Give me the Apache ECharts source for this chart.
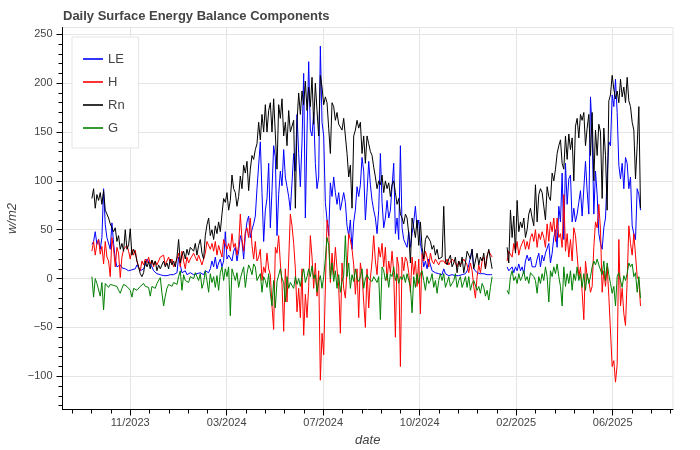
<!DOCTYPE html>
<html><head><meta charset="utf-8">
<script src="https://cdn.jsdelivr.net/npm/echarts@6/dist/echarts.min.js"></script>
<style>html,body{margin:0;padding:0;background:#fff}#c{width:700px;height:450px}</style>
</head><body><div id="c"></div><script>
// ---- data: daily-surface energy balance, one value every 2 days starting 2023-09-30 ----
const START = Date.UTC(2023, 8, 30);
const STEP_DAYS = 2;
const DAY = 86400000;
const SERIES_NAMES = ['LE', 'H', 'Rn', 'G'];

const LE = [
35,38,48,35,40,30,42,92,55,42,
40,30,57,36,20,12,10,14,11,9,
10,9,8,10,9,8,10,14,12,8,
8,10,14,20,18,15,12,8,6,5,
5,4,4,3,4,3,3,4,3,4,
4,6,22,14,6,5,8,4,5,6,
5,4,6,5,3,6,5,4,8,6,
6,10,18,12,22,10,16,20,12,18,
48,20,24,22,18,28,32,18,28,44,
38,20,44,58,64,42,50,56,64,92,
92,140,88,38,70,82,118,52,90,136,
124,44,86,110,95,132,104,94,84,70,
98,128,110,168,128,94,140,210,62,150,
222,152,146,170,118,92,104,238,160,146,
78,60,44,98,84,104,88,76,88,70,
70,88,78,54,44,60,30,58,70,94,
84,96,124,110,60,88,120,96,80,70,
62,46,70,128,78,52,62,80,62,70,
70,118,46,62,40,136,52,40,42,32,
48,32,46,58,74,52,60,36,26,12,
18,10,20,14,8,7,6,5,5,5,
4,10,5,4,3,3,4,3,3,3,
3,3,4,3,5,8,14,12,30,10,
8,6,6,5,5,5,5,4,4,4,
4,null,null,null,null,null,null,null,null,12,8,
8,12,6,12,8,15,8,12,5,18,
24,18,22,12,14,12,20,26,12,24,
18,26,28,36,16,26,42,50,32,74,
58,108,40,118,76,102,106,58,72,58,
66,78,90,64,62,120,90,66,186,150,
66,110,86,46,36,30,52,62,104,140,
136,188,176,204,170,116,102,118,92,124,
118,92,104,54,46,40,92,86,70];

const H = [
28,38,24,36,40,25,33,15,38,22,
18,2,42,30,12,32,26,1,22,30,
30,34,28,20,30,24,29,18,12,8,
18,14,20,16,22,15,19,12,18,14,
18,22,20,24,14,18,22,16,20,12,
14,20,26,12,28,18,10,22,16,20,
20,26,22,18,24,19,14,12,26,38,
40,30,36,28,38,24,34,36,22,40,
38,30,36,28,46,32,36,24,34,66,
40,28,48,52,42,62,34,20,38,18,
22,30,-2,12,6,26,10,4,-28,-52,
32,26,44,16,-6,-54,10,-24,18,66,
54,36,10,-34,-10,-40,10,-58,-16,-40,
-8,44,22,-10,16,-18,8,-104,-56,-78,
-76,60,50,-4,26,4,32,10,-8,-56,
16,-10,-20,10,46,40,30,14,-16,10,
-40,16,4,-24,-50,10,-30,0,18,44,
18,4,32,22,36,12,32,-2,18,6,
28,6,-60,22,12,-90,22,8,22,18,
6,-14,22,4,18,-8,20,-36,26,18,
28,22,12,26,18,15,20,22,14,18,
20,18,15,20,14,12,20,22,16,12,
18,14,12,20,18,14,6,16,8,-8,
-20,2,14,6,18,22,10,24,28,30,
22,null,null,null,null,null,null,null,null,18,28,
28,22,36,28,38,24,32,36,40,30,
38,30,42,46,38,50,32,46,40,48,
42,32,56,38,58,48,62,38,62,42,
46,32,86,28,46,22,40,18,52,44,
24,2,12,-14,-42,18,2,-2,-14,-8,
32,58,52,76,50,-14,8,-8,12,-18,
-20,-90,-84,-106,-88,40,-28,-10,-36,-48,
-2,54,36,24,46,24,2,-2,-28];

const RN = [
82,92,72,86,80,88,76,90,70,66,
62,56,52,48,52,38,44,30,36,28,
50,30,34,51,24,30,26,18,12,5,
2,6,18,12,17,10,19,14,18,8,
14,10,8,18,12,16,10,20,14,18,
12,22,40,16,24,28,20,30,24,32,
32,28,36,24,34,40,26,20,44,55,
62,44,50,40,54,46,58,48,66,82,
78,88,70,80,106,92,88,74,84,105,
92,116,108,120,90,112,126,122,132,138,
160,142,168,150,178,150,172,180,150,184,
184,112,178,164,184,146,160,136,172,150,
150,162,72,160,190,168,192,178,202,172,
196,176,206,158,200,172,146,208,196,178,
186,180,154,128,180,176,162,170,158,155,
152,164,166,128,104,116,72,146,152,162,
154,160,128,146,118,146,138,130,126,114,
104,92,100,96,106,88,100,92,98,84,
96,100,88,76,82,66,62,56,66,62,
46,16,62,52,42,60,34,58,32,20,
40,44,46,38,30,34,24,30,20,22,
22,74,18,14,20,24,12,16,22,6,
18,12,22,6,16,28,24,20,30,10,
18,26,14,22,18,26,10,22,30,20,
10,null,null,null,null,null,null,null,null,32,16,
70,42,64,26,80,48,58,52,62,42,
50,66,72,62,54,96,58,86,92,88,
86,60,94,84,80,108,100,112,128,136,
142,118,112,146,122,148,132,144,100,156,
164,144,168,162,170,136,154,168,126,170,
100,152,126,158,150,82,154,126,70,182,
188,208,194,184,192,180,204,186,196,180,
206,182,176,160,152,102,136,176,72];

const G = [
2,-19,0,-5,-3,-18,-4,-32,-5,-7,
-9,-6,-4,-7,-5,-8,-12,-15,-10,-6,
-5,-8,-9,-12,-19,-10,-9,-12,-14,-8,
-10,-5,-8,-6,-9,-18,-8,-6,-10,-5,
-4,1,-15,-28,-18,-10,-6,-5,-8,-4,
-3,-6,2,8,-12,4,-2,0,-4,2,
4,0,6,2,-2,5,-10,-4,8,-2,
-14,5,-4,2,-9,3,-12,6,12,-2,
10,2,12,-38,10,4,-2,6,-9,0,
2,12,-9,5,14,10,4,15,12,-2,
-2,5,-14,2,-2,-9,5,-15,-28,-2,
-30,-3,-2,10,0,-4,-24,2,-10,-4,
-3,-10,2,-6,0,-8,3,10,-4,2,
10,2,13,0,4,-14,-3,3,-10,2,
20,42,34,0,16,-3,8,-10,4,-14,
-3,3,44,2,16,-10,4,-3,10,0,
-3,2,10,-10,0,4,0,1,-3,2,
4,-4,2,-42,12,8,-2,5,-9,5,
2,12,-2,5,-5,2,-1,4,-4,5,
-2,-8,-35,2,-9,5,-5,5,8,-2,
-12,2,-5,-2,5,-9,-2,-15,-2,5,
-2,5,-9,-4,2,-8,-5,-2,5,-9,
-2,2,-9,-4,2,-9,2,-12,-5,-2,
-2,-12,-8,-15,-5,-9,-18,-12,-22,-9,
2,null,null,null,null,null,null,null,null,-12,-16,
2,8,-2,2,-5,5,-2,2,8,-2,
2,-5,6,8,2,-2,-15,2,-5,5,
-2,12,2,-24,8,2,12,5,15,2,
-8,-28,12,-8,5,-5,8,-12,5,-2,
12,-2,5,-9,5,-12,5,-5,2,12,
18,14,20,14,16,4,18,-2,16,4,
-5,-15,-8,-28,2,6,-2,-9,3,-2,
5,16,12,15,2,6,-14,2,-20];

// tick values (ms since epoch for x, W/m2 for y)
const X_TICKS = [1.70e12, 1.71e12, 1.72e12, 1.73e12, 1.74e12, 1.75e12];
const Y_TICKS = [-100, -50, 0, 50, 100, 150, 200, 250];
const X_MIN = 1692984000000, X_MAX = 1756250000000;
const Y_MIN = -134, Y_MAX = 257;

const X_MINOR = [];
for (let t = 1.694e12; t <= X_MAX; t += 2e9) X_MINOR.push(t);
const Y_MINOR = [];
for (let v = -130; v <= 250; v += 10) Y_MINOR.push(v);

const COLORS = {LE: '#0000ff', H: '#ff0000', Rn: '#000000', G: '#008000'};
const FONT = '"Liberation Sans", Arial, Helvetica, sans-serif';

function pairs(arr) { return arr.map((v, i) => [START + i * STEP_DAYS * DAY, v]); }
function fmtDate(v) {
  const d = new Date(v); const m = d.getUTCMonth() + 1;
  return (m < 10 ? '0' : '') + m + '/' + d.getUTCFullYear();
}
function fmtNum(v) { return v < 0 ? '\u2212' + Math.abs(v) : String(v); }

const chart = echarts.init(document.getElementById('c'), null, {renderer: 'canvas'});
const dataMap = {LE: LE, H: H, Rn: RN, G: G};

chart.setOption({
  animation: false,
  backgroundColor: '#ffffff',
  title: {
    text: 'Daily Surface Energy Balance Components', left: 58, top: 5,
    textStyle: {fontSize: 13, fontWeight: 'bold', color: '#444444', fontFamily: FONT}
  },
  legend: {
    data: SERIES_NAMES, orient: 'vertical', left: 72, top: 37,
    padding: [15, 14, 13, 11], itemGap: 9, itemWidth: 20, itemHeight: 1.6,
    icon: 'rect',
    borderColor: '#e5e5e5', borderWidth: 1, backgroundColor: '#ffffff',
    textStyle: {fontSize: 13, lineHeight: 14, color: '#444444', fontFamily: FONT},
    selectedMode: false
  },
  grid: {left: 62.5, right: 27, top: 27.5, bottom: 40.5, show: true,
         outerBoundsMode: 'none', containLabel: false,
         borderColor: '#e5e5e5', borderWidth: 1, backgroundColor: 'transparent'},
  xAxis: [{
    type: 'value', min: X_MIN, max: X_MAX, position: 'bottom',
    name: 'date', nameLocation: 'middle', nameGap: 22,
    nameTextStyle: {fontStyle: 'italic', fontSize: 13, color: '#444444', fontFamily: FONT},
    axisLine: {show: true, onZero: false, lineStyle: {color: '#000', width: 1}},
    axisTick: {show: true, inside: false, length: 6, customValues: X_TICKS, lineStyle: {color: '#000'}},
    axisLabel: {customValues: X_TICKS, formatter: fmtDate, margin: 8, fontSize: 11, color: '#444444', fontFamily: FONT},
    splitLine: {show: true, lineStyle: {color: '#e5e5e5', width: 1}}
  }, {
    type: 'value', min: X_MIN, max: X_MAX, position: 'bottom',
    axisLine: {show: false, onZero: false}, axisLabel: {show: false}, splitLine: {show: false},
    axisTick: {show: true, inside: false, length: 4, customValues: X_MINOR, lineStyle: {color: '#000'}}
  }],
  yAxis: [{
    type: 'value', min: Y_MIN, max: Y_MAX, position: 'left',
    name: 'w/m2', nameLocation: 'middle', nameGap: 44, nameRotate: 90, nameMoveOverlap: false,
    nameTextStyle: {fontStyle: 'italic', fontSize: 13, color: '#444444', fontFamily: FONT},
    axisLine: {show: true, onZero: false, lineStyle: {color: '#000', width: 1}},
    axisTick: {show: true, inside: false, length: 6, customValues: Y_TICKS, lineStyle: {color: '#000'}},
    axisLabel: {customValues: Y_TICKS, formatter: fmtNum, margin: 10, fontSize: 11, color: '#444444', fontFamily: FONT},
    splitLine: {show: true, lineStyle: {color: '#e5e5e5', width: 1}}
  }, {
    type: 'value', min: Y_MIN, max: Y_MAX, position: 'left',
    axisLine: {show: false, onZero: false}, axisLabel: {show: false}, splitLine: {show: false},
    axisTick: {show: true, inside: false, length: 4, customValues: Y_MINOR, lineStyle: {color: '#000'}}
  }],
  series: SERIES_NAMES.map(n => ({
    name: n, type: 'line', xAxisIndex: 0, yAxisIndex: 0,
    data: pairs(dataMap[n]), symbol: 'none', showSymbol: false,
    connectNulls: false, silent: true,
    lineStyle: {width: 1, color: COLORS[n]}, itemStyle: {color: COLORS[n]},
    emphasis: {disabled: true}
  }))
});
</script></body></html>
